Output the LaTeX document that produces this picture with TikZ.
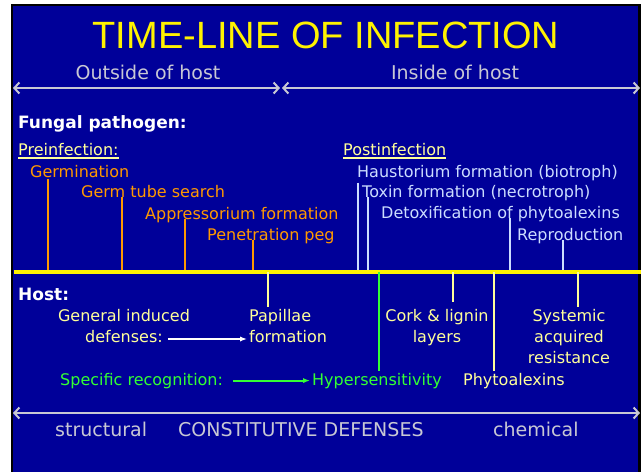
\documentclass[tikz,border=0pt]{standalone}
\usepackage{fontspec}
\setmainfont{DejaVu Sans}
\newfontfamily\titlefont{Liberation Sans}
\usetikzlibrary{arrows.meta}
\definecolor{slide}{RGB}{0,0,153}
\definecolor{pale}{RGB}{255,255,153}
\definecolor{orng}{RGB}{255,153,0}
\definecolor{sky}{RGB}{204,221,255}
\definecolor{silv}{RGB}{200,200,212}
\definecolor{grn}{RGB}{51,255,51}
\tikzset{
  txt/.style={anchor=base west,inner sep=0pt,font=\fontsize{16}{21}\selectfont},
  head/.style={anchor=base west,inner sep=0pt,font=\bfseries\fontsize{17}{21}\selectfont,white},
  big/.style={inner sep=0pt,font=\fontsize{19}{23}\selectfont,silv},
  stem/.style={line width=2pt},
  span/.style={silv,line width=2pt,{Straight Barb[length=5pt,width=11pt]}-{Straight Barb[length=5pt,width=11pt]}}
}
\begin{document}
\begin{tikzpicture}[x=1pt,y=-1pt]
\useasboundingbox (0,0) rectangle (641,472);
\fill[white] (0,0) rectangle (641,472);
\fill[black] (11,4) rectangle (641,472);
\fill[slide] (13,6) rectangle (638,472);

\node[anchor=base,inner sep=0pt,yellow,font=\titlefont\fontsize{38}{38}\selectfont] (title) at (326,48) {TIME-LINE OF INFECTION};
\node[big,anchor=base] (out) at (148,79) {Outside of host};
\node[big,anchor=base] (in) at (455,79) {Inside of host};
\coordinate (o1) at (13,88);
\coordinate (o2) at (280,88);
\coordinate (i1) at (282,88);
\coordinate (i2) at (640,88);
\draw[span] (o1) -- (o2);
\draw[span] (i1) -- (i2);

\node[head] (fungus) at (18,128) {Fungal pathogen:};
\node[txt,pale] (pre) at (18,155) {Preinfection:};
\draw[pale,line width=1.5pt] ([yshift=-3pt]pre.base west) -- ([yshift=-3pt]pre.base east);
\node[txt,pale] (post) at (343,155) {Postinfection};
\draw[pale,line width=1.5pt] ([yshift=-3pt]post.base west) -- ([yshift=-3pt]post.base east);

\node[txt,orng,inner sep=2pt] (germ) at (28,177) {Germination};
\node[txt,orng] (tube) at (81,197) {Germ tube search};
\node[txt,orng] (appr) at (145,219) {Appressorium formation};
\node[txt,orng] (peg) at (207,240) {Penetration peg};

\node[txt,sky,inner sep=2pt] (haus) at (355,177) {Haustorium formation (biotroph)};
\node[txt,sky] (toxin) at (362,197) {Toxin formation (necrotroph)};
\node[txt,sky] (detox) at (381,218) {Detoxification of phytoalexins};
\node[txt,sky] (repro) at (517,240) {Reproduction};

\coordinate (l0) at (14,272);
\coordinate (l1) at (641,272);
\foreach \n/\x in {t1/48,t2/122,t3/185,t4/253,t5/358,t6/368,t7/510,t8/563,h1/268,h2/379,h3/453,h4/494,h5/578}
  \coordinate (\n) at (\x,272);

\draw[orng,stem] (germ.south -| t1) -- (t1);
\draw[orng,stem] (tube.base -| t2) -- (t2);
\draw[orng,stem] (appr.base -| t3) -- (t3);
\draw[orng,stem] (peg.base -| t4) -- (t4);
\draw[sky,stem] (haus.south -| t5) -- (t5);
\draw[sky,stem] (toxin.base -| t6) -- (t6);
\draw[sky,stem] (detox.base -| t7) -- (t7);
\draw[sky,stem] (repro.base -| t8) -- (t8);

\node[head] (host) at (18,300) {Host:};
\node[txt,pale,anchor=north,align=center,inner sep=2pt] (general) at (124,307) {General induced\\defenses:};
\node[txt,pale,anchor=north west,align=left,inner sep=2pt] (papil) at (247,307) {Papillae\\formation};
\node[txt,pale,anchor=north,align=center,inner sep=2pt] (cork) at (437,307) {Cork \& lignin\\layers};
\node[txt,pale,anchor=north,align=center,inner sep=2pt] (sar) at (569,307) {Systemic\\acquired\\resistance};
\node[txt,grn] (spec) at (60,385) {Specific recognition:};
\node[txt,grn,inner sep=2pt] (hyper) at (310,385) {Hypersensitivity};
\node[txt,pale,inner sep=2pt] (phyto) at (461,385) {Phytoalexins};

\draw[yellow,line width=4pt] (l0) -- (l1);
\draw[pale,stem] (h1) -- (papil.north -| h1);
\draw[grn,stem] (h2) -- (hyper.north -| h2);
\draw[pale,stem] (h3) -- ([yshift=5pt]cork.north -| h3);
\draw[pale,stem] (h4) -- (phyto.north -| h4);
\draw[pale,stem] (h5) -- (sar.north -| h5);

\coordinate (d1) at (168,339);
\draw[white,line width=1.5pt,-{Latex[length=7pt]}] (d1) -- (d1 -| papil.west);
\draw[grn,line width=2pt,-{Latex[length=7pt]}] ([xshift=10pt]spec.east) -- (spec.east -| hyper.west);

\coordinate (c1) at (13,413);
\coordinate (c2) at (640,413);
\draw[span] (c1) -- (c2);
\node[big,anchor=base west] (struct) at (55,436) {structural};
\node[big,anchor=base west] (const) at (178,436) {CONSTITUTIVE DEFENSES};
\node[big,anchor=base west] (chem) at (493,436) {chemical};
\end{tikzpicture}
\end{document}
